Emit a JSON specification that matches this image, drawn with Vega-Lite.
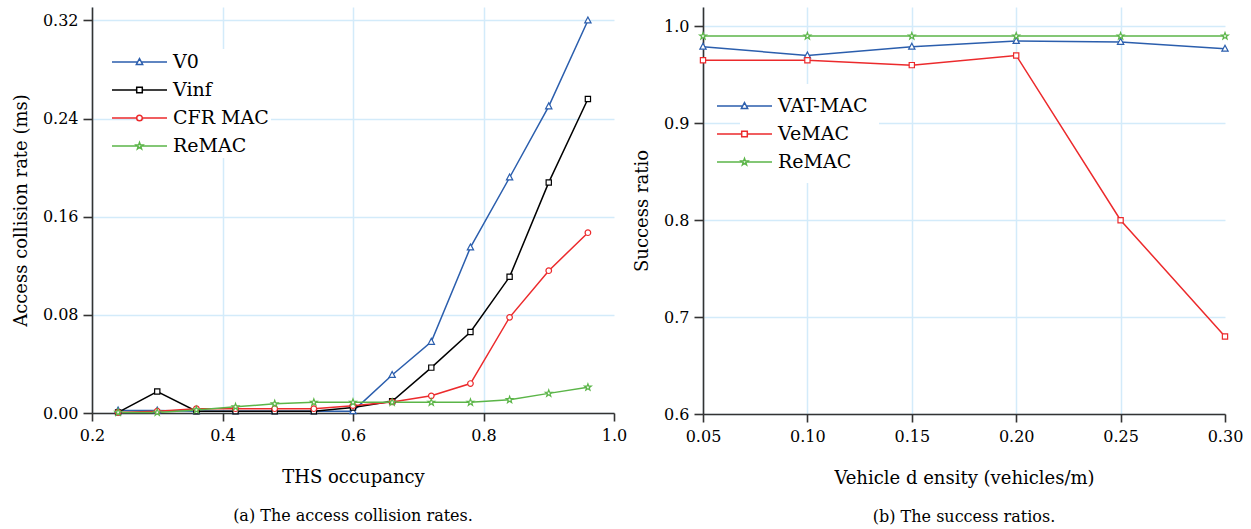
{
  "$schema": "https://vega.github.io/schema/vega-lite/v6.json",
  "background": "white",
  "padding": {"left": 12, "top": 7, "right": 5, "bottom": 4},
  "bounds": "flush",
  "spacing": 89,
  "config": {
    "font": "DejaVu Serif",
    "view": {"stroke": null},
    "axis": {
      "labelFont": "DejaVu Serif", "labelFontSize": 16, "labelColor": "#000", "labelFlush": false,
      "titleFont": "DejaVu Serif", "titleFontSize": 18, "titleFontWeight": "normal", "titleColor": "#000",
      "domainColor": "#333333", "domainWidth": 1.6,
      "tickColor": "#333333", "tickWidth": 1.6, "tickSize": 8,
      "gridColor": "#d3ebfa", "gridWidth": 1.5
    },
    "title": {"font": "DejaVu Serif", "fontSize": 16, "fontWeight": "normal", "color": "#000"}
  },
  "datasets": {
    "a": [
      {"series": "V0", "marker": "V0", "occ": 0.24, "rate": 0.002},
      {"series": "V0", "marker": "V0", "occ": 0.30, "rate": 0.002},
      {"series": "V0", "marker": "V0", "occ": 0.36, "rate": 0.0015},
      {"series": "V0", "marker": "V0", "occ": 0.42, "rate": 0.0015},
      {"series": "V0", "marker": "V0", "occ": 0.48, "rate": 0.0015},
      {"series": "V0", "marker": "V0", "occ": 0.54, "rate": 0.0015},
      {"series": "V0", "marker": "V0", "occ": 0.60, "rate": 0.0015},
      {"series": "V0", "marker": "V0", "occ": 0.66, "rate": 0.031},
      {"series": "V0", "marker": "V0", "occ": 0.72, "rate": 0.058},
      {"series": "V0", "marker": "V0", "occ": 0.78, "rate": 0.135},
      {"series": "V0", "marker": "V0", "occ": 0.84, "rate": 0.192},
      {"series": "V0", "marker": "V0", "occ": 0.90, "rate": 0.250},
      {"series": "V0", "marker": "V0", "occ": 0.96, "rate": 0.320},
      {"series": "Vinf", "marker": "Vinf", "occ": 0.24, "rate": 0.0005},
      {"series": "Vinf", "marker": "Vinf", "occ": 0.30, "rate": 0.0175},
      {"series": "Vinf", "marker": "Vinf", "occ": 0.36, "rate": 0.0015},
      {"series": "Vinf", "marker": "Vinf", "occ": 0.42, "rate": 0.0015},
      {"series": "Vinf", "marker": "Vinf", "occ": 0.48, "rate": 0.0015},
      {"series": "Vinf", "marker": "Vinf", "occ": 0.54, "rate": 0.0015},
      {"series": "Vinf", "marker": "Vinf", "occ": 0.60, "rate": 0.0045},
      {"series": "Vinf", "marker": "Vinf", "occ": 0.66, "rate": 0.0095},
      {"series": "Vinf", "marker": "Vinf", "occ": 0.72, "rate": 0.037},
      {"series": "Vinf", "marker": "Vinf", "occ": 0.78, "rate": 0.066},
      {"series": "Vinf", "marker": "Vinf", "occ": 0.84, "rate": 0.111},
      {"series": "Vinf", "marker": "Vinf", "occ": 0.90, "rate": 0.188},
      {"series": "Vinf", "marker": "Vinf", "occ": 0.96, "rate": 0.256},
      {"series": "CFR MAC", "marker": "CFR MAC", "occ": 0.24, "rate": 0.0005},
      {"series": "CFR MAC", "marker": "CFR MAC", "occ": 0.30, "rate": 0.0015},
      {"series": "CFR MAC", "marker": "CFR MAC", "occ": 0.36, "rate": 0.0035},
      {"series": "CFR MAC", "marker": "CFR MAC", "occ": 0.42, "rate": 0.0035},
      {"series": "CFR MAC", "marker": "CFR MAC", "occ": 0.48, "rate": 0.0035},
      {"series": "CFR MAC", "marker": "CFR MAC", "occ": 0.54, "rate": 0.0035},
      {"series": "CFR MAC", "marker": "CFR MAC", "occ": 0.60, "rate": 0.006},
      {"series": "CFR MAC", "marker": "CFR MAC", "occ": 0.66, "rate": 0.009},
      {"series": "CFR MAC", "marker": "CFR MAC", "occ": 0.72, "rate": 0.014},
      {"series": "CFR MAC", "marker": "CFR MAC", "occ": 0.78, "rate": 0.024},
      {"series": "CFR MAC", "marker": "CFR MAC", "occ": 0.84, "rate": 0.078},
      {"series": "CFR MAC", "marker": "CFR MAC", "occ": 0.90, "rate": 0.116},
      {"series": "CFR MAC", "marker": "CFR MAC", "occ": 0.96, "rate": 0.147},
      {"series": "ReMAC", "marker": "ReMAC", "occ": 0.24, "rate": 0.0005},
      {"series": "ReMAC", "marker": "ReMAC", "occ": 0.30, "rate": 0.0005},
      {"series": "ReMAC", "marker": "ReMAC", "occ": 0.36, "rate": 0.0025},
      {"series": "ReMAC", "marker": "ReMAC", "occ": 0.42, "rate": 0.005},
      {"series": "ReMAC", "marker": "ReMAC", "occ": 0.48, "rate": 0.0075},
      {"series": "ReMAC", "marker": "ReMAC", "occ": 0.54, "rate": 0.0087},
      {"series": "ReMAC", "marker": "ReMAC", "occ": 0.60, "rate": 0.0087},
      {"series": "ReMAC", "marker": "ReMAC", "occ": 0.66, "rate": 0.0087},
      {"series": "ReMAC", "marker": "ReMAC", "occ": 0.72, "rate": 0.0087},
      {"series": "ReMAC", "marker": "ReMAC", "occ": 0.78, "rate": 0.0087},
      {"series": "ReMAC", "marker": "ReMAC", "occ": 0.84, "rate": 0.0108},
      {"series": "ReMAC", "marker": "ReMAC", "occ": 0.90, "rate": 0.016},
      {"series": "ReMAC", "marker": "ReMAC", "occ": 0.96, "rate": 0.021}
    ],
    "b": [
      {"series": "VAT-MAC", "marker": "VAT-MAC", "density": 0.05, "ratio": 0.979},
      {"series": "VAT-MAC", "marker": "VAT-MAC", "density": 0.10, "ratio": 0.970},
      {"series": "VAT-MAC", "marker": "VAT-MAC", "density": 0.15, "ratio": 0.979},
      {"series": "VAT-MAC", "marker": "VAT-MAC", "density": 0.20, "ratio": 0.985},
      {"series": "VAT-MAC", "marker": "VAT-MAC", "density": 0.25, "ratio": 0.984},
      {"series": "VAT-MAC", "marker": "VAT-MAC", "density": 0.30, "ratio": 0.977},
      {"series": "VeMAC", "marker": "VeMAC", "density": 0.05, "ratio": 0.965},
      {"series": "VeMAC", "marker": "VeMAC", "density": 0.10, "ratio": 0.965},
      {"series": "VeMAC", "marker": "VeMAC", "density": 0.15, "ratio": 0.960},
      {"series": "VeMAC", "marker": "VeMAC", "density": 0.20, "ratio": 0.970},
      {"series": "VeMAC", "marker": "VeMAC", "density": 0.25, "ratio": 0.800},
      {"series": "VeMAC", "marker": "VeMAC", "density": 0.30, "ratio": 0.680},
      {"series": "ReMAC", "marker": "ReMAC", "density": 0.05, "ratio": 0.990},
      {"series": "ReMAC", "marker": "ReMAC", "density": 0.10, "ratio": 0.990},
      {"series": "ReMAC", "marker": "ReMAC", "density": 0.15, "ratio": 0.990},
      {"series": "ReMAC", "marker": "ReMAC", "density": 0.20, "ratio": 0.990},
      {"series": "ReMAC", "marker": "ReMAC", "density": 0.25, "ratio": 0.990},
      {"series": "ReMAC", "marker": "ReMAC", "density": 0.30, "ratio": 0.990}
    ]
  },
  "resolve": {
    "scale": {"color": "independent", "stroke": "independent", "shape": "independent"},
    "legend": {"color": "independent", "shape": "independent"}
  },
  "hconcat": [
    {
      "width": 522,
      "height": 406,
      "data": {"name": "a"},
      "title": {"text": "(a)  The access collision rates.", "orient": "bottom", "anchor": "middle", "offset": 22},
      "resolve": {"scale": {"shape": "independent"}, "legend": {"color": "independent", "shape": "independent"}},
      "encoding": {
        "x": {
          "field": "occ", "type": "quantitative",
          "scale": {"domain": [0.2, 1.0], "nice": false, "zero": false},
          "axis": {
            "title": "THS occupancy", "values": [0.2, 0.4, 0.6, 0.8, 1.0], "format": ".1f",
            "labelPadding": 6, "titlePadding": 25,
            "gridOpacity": {"condition": {"test": "datum.value >= 0.99", "value": 0}, "value": 1}
          }
        },
        "y": {
          "field": "rate", "type": "quantitative",
          "scale": {"domain": [0, 0.331], "nice": false},
          "axis": {
            "title": "Access collision rate (ms)", "values": [0, 0.08, 0.16, 0.24, 0.32], "format": ".2f",
            "tickSize": 9, "labelPadding": 5, "titlePadding": 12
          }
        }
      },
      "layer": [
        {
          "mark": {"type": "line", "strokeWidth": 1.5},
          "encoding": {
            "color": {
              "field": "series", "type": "nominal",
              "scale": {"domain": ["V0", "Vinf", "CFR MAC", "ReMAC"], "range": ["#2b5ead", "#000000", "#ec2a2c", "#5bb548"]},
              "legend": null
            }
          }
        },
        {
          "mark": {"type": "point", "filled": false, "fill": "white", "strokeWidth": 1.2, "size": 49, "opacity": 1},
          "encoding": {
            "stroke": {
              "field": "marker", "type": "nominal",
              "scale": {"domain": ["ReMAC", "CFR MAC", "Vinf", "V0"], "range": ["#5bb548", "#ec2a2c", "#000000", "#2b5ead"]},
              "legend": null
            },
            "shape": {
              "field": "marker", "type": "nominal",
              "scale": {"domain": ["ReMAC", "CFR MAC", "Vinf", "V0"], "range": [
                "M0,-1L0.235,-0.324L0.951,-0.309L0.38,0.124L0.588,0.809L0,0.4L-0.588,0.809L-0.38,0.124L-0.951,-0.309L-0.235,-0.324Z",
                "M0.8,0A0.8,0.8 0 1,1 -0.8,0A0.8,0.8 0 1,1 0.8,0Z",
                "M-0.75,-0.75H0.75V0.75H-0.75Z",
                "M0,-1L0.9,0.7L-0.9,0.7Z"
              ]},
              "legend": null
            }
          }
        },
        {
          "transform": [{"filter": "false"}],
          "mark": {"type": "point", "filled": false, "fill": "white", "strokeWidth": 1.5, "opacity": 1},
          "encoding": {
            "color": {
              "field": "series", "type": "nominal",
              "scale": {"domain": ["V0", "Vinf", "CFR MAC", "ReMAC"], "range": ["#2b5ead", "#000000", "#ec2a2c", "#5bb548"]},
              "legend": {
                "title": null, "orient": "none", "legendX": 52, "legendY": 42,
                "padding": 2, "fillColor": "white", "strokeColor": null,
                "symbolSize": 400, "symbolStrokeWidth": 1.5, "symbolFillColor": "white", "symbolOpacity": 1,
                "labelFont": "DejaVu Serif", "labelFontSize": 19, "labelColor": "#000", "labelOffset": 5,
                "rowPadding": 7
              }
            },
            "shape": {
              "field": "series", "type": "nominal",
              "scale": {"domain": ["V0", "Vinf", "CFR MAC", "ReMAC"], "range": [
                "M-4.5,0H-1.935M-1.565,0H1M-1.75,-0.35L-1.435,0.245L-2.065,0.245Z",
                "M-4.5,0H-2.03M-1.47,0H1M-2.03,-0.28H-1.47V0.28H-2.03Z",
                "M-4.5,0H-2.03M-1.47,0H1M-1.47,0A0.28,0.28 0 1,1 -2.03,0A0.28,0.28 0 1,1 -1.47,0Z",
                "M-4.5,0H-1.89M-1.61,0H1M-1.75,-0.35L-1.668,-0.113L-1.417,-0.108L-1.617,0.043L-1.544,0.283L-1.75,0.14L-1.956,0.283L-1.883,0.043L-2.083,-0.108L-1.832,-0.113Z"
              ]},
              "legend": {"title": null, "orient": "none", "legendX": 52, "legendY": 42, "symbolOpacity": 1}
            }
          }
        }
      ]
    },
    {
      "width": 522,
      "height": 407,
      "data": {"name": "b"},
      "title": {"text": "(b)  The success ratios.", "orient": "bottom", "anchor": "middle", "offset": 22},
      "resolve": {"scale": {"shape": "independent"}, "legend": {"color": "independent", "shape": "independent"}},
      "encoding": {
        "x": {
          "field": "density", "type": "quantitative",
          "scale": {"domain": [0.05, 0.30], "nice": false, "zero": false},
          "axis": {
            "title": "Vehicle d ensity (vehicles/m)", "values": [0.05, 0.10, 0.15, 0.20, 0.25, 0.30], "format": ".2f",
            "labelPadding": 6, "titlePadding": 25,
            "gridOpacity": {"condition": {"test": "datum.value >= 0.299", "value": 0}, "value": 1}
          }
        },
        "y": {
          "field": "ratio", "type": "quantitative",
          "scale": {"domain": [0.6, 1.02], "nice": false, "zero": false},
          "axis": {
            "title": "Success ratio", "values": [0.6, 0.7, 0.8, 0.9, 1.0], "format": ".1f",
            "tickSize": 9, "labelPadding": 5, "titlePadding": 12
          }
        }
      },
      "layer": [
        {
          "mark": {"type": "line", "strokeWidth": 1.5},
          "encoding": {
            "color": {
              "field": "series", "type": "nominal",
              "scale": {"domain": ["VAT-MAC", "VeMAC", "ReMAC"], "range": ["#2b5ead", "#ec2a2c", "#5bb548"]},
              "legend": null
            }
          }
        },
        {
          "mark": {"type": "point", "filled": false, "fill": "white", "strokeWidth": 1.2, "size": 49, "opacity": 1},
          "encoding": {
            "stroke": {
              "field": "marker", "type": "nominal",
              "scale": {"domain": ["ReMAC", "VeMAC", "VAT-MAC"], "range": ["#5bb548", "#ec2a2c", "#2b5ead"]},
              "legend": null
            },
            "shape": {
              "field": "marker", "type": "nominal",
              "scale": {"domain": ["ReMAC", "VeMAC", "VAT-MAC"], "range": [
                "M0,-1L0.235,-0.324L0.951,-0.309L0.38,0.124L0.588,0.809L0,0.4L-0.588,0.809L-0.38,0.124L-0.951,-0.309L-0.235,-0.324Z",
                "M-0.75,-0.75H0.75V0.75H-0.75Z",
                "M0,-1L0.9,0.7L-0.9,0.7Z"
              ]},
              "legend": null
            }
          }
        },
        {
          "transform": [{"filter": "false"}],
          "mark": {"type": "point", "filled": false, "fill": "white", "strokeWidth": 1.5, "opacity": 1},
          "encoding": {
            "color": {
              "field": "series", "type": "nominal",
              "scale": {"domain": ["VAT-MAC", "VeMAC", "ReMAC"], "range": ["#2b5ead", "#ec2a2c", "#5bb548"]},
              "legend": {
                "title": null, "orient": "none", "legendX": 37, "legendY": 77,
                "padding": 11, "fillColor": "white", "strokeColor": null,
                "symbolSize": 400, "symbolStrokeWidth": 1.5, "symbolFillColor": "white", "symbolOpacity": 1,
                "labelFont": "DejaVu Serif", "labelFontSize": 19, "labelColor": "#000", "labelOffset": 5,
                "rowPadding": 7
              }
            },
            "shape": {
              "field": "series", "type": "nominal",
              "scale": {"domain": ["VAT-MAC", "VeMAC", "ReMAC"], "range": [
                "M-4.5,0H-1.935M-1.565,0H1M-1.75,-0.35L-1.435,0.245L-2.065,0.245Z",
                "M-4.5,0H-2.03M-1.47,0H1M-2.03,-0.28H-1.47V0.28H-2.03Z",
                "M-4.5,0H-1.89M-1.61,0H1M-1.75,-0.35L-1.668,-0.113L-1.417,-0.108L-1.617,0.043L-1.544,0.283L-1.75,0.14L-1.956,0.283L-1.883,0.043L-2.083,-0.108L-1.832,-0.113Z"
              ]},
              "legend": {"title": null, "orient": "none", "legendX": 37, "legendY": 77, "symbolOpacity": 1}
            }
          }
        }
      ]
    }
  ]
}
